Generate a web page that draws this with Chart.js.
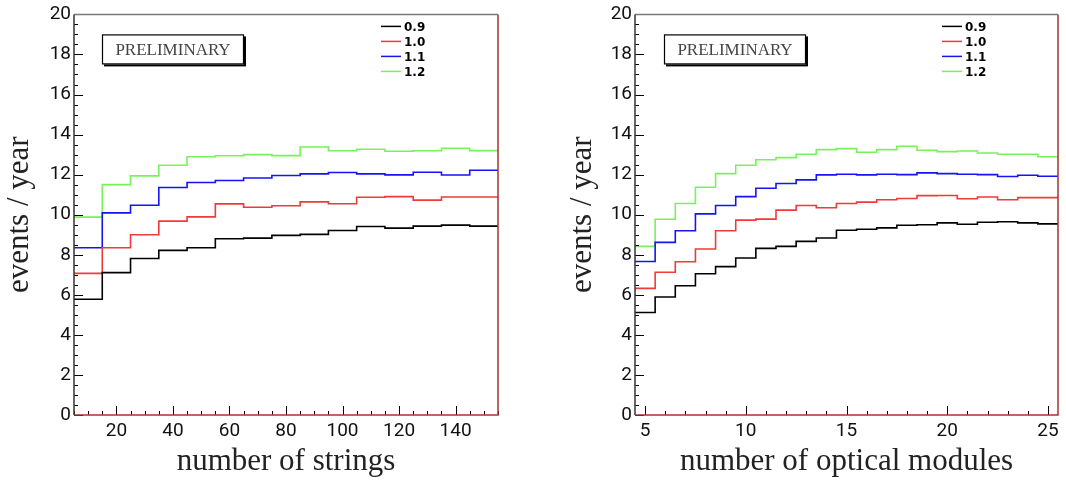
<!DOCTYPE html>
<html>
<head>
<meta charset="utf-8">
<script src="https://cdn.jsdelivr.net/npm/chart.js@4"></script>
<style>
  body { margin: 0; background: #fff; }
  .wrap { position: absolute; top: 0; width: 533px; height: 483px; }
</style>
</head>
<body>
<div class="wrap" style="left:0"><canvas id="stringsChart" width="533" height="483"></canvas></div>
<div class="wrap" style="left:533px"><canvas id="modulesChart" width="533" height="483"></canvas></div>
<script>
// series labels (legend)
const seriesLabels = ['0.9', '1.0', '1.1', '1.2'];
const seriesColors = ['#000000', '#f03a3a', '#1414f5', '#78f25a'];

// left: bin centres (number of strings, bin width 10)
const stringBins = [10, 20, 30, 40, 50, 60, 70, 80, 90, 100, 110, 120, 130, 140, 150];
const strings09 = [5.78, 7.11, 7.81, 8.22, 8.35, 8.80, 8.83, 8.97, 9.02, 9.21, 9.41, 9.33, 9.43, 9.48, 9.43];
const strings10 = [7.07, 8.35, 9.00, 9.68, 9.89, 10.54, 10.37, 10.45, 10.64, 10.55, 10.87, 10.90, 10.73, 10.88, 10.88];
const strings11 = [8.35, 10.09, 10.47, 11.36, 11.61, 11.71, 11.83, 11.96, 12.04, 12.11, 12.04, 11.99, 12.12, 11.98, 12.22];
const strings12 = [9.88, 11.50, 11.94, 12.47, 12.89, 12.94, 13.00, 12.95, 13.38, 13.19, 13.27, 13.17, 13.19, 13.32, 13.20];
const stringTicks = [20, 40, 60, 80, 100, 120, 140];

// right: bin centres (number of optical modules, bin width 1)
const moduleBins = [5, 6, 7, 8, 9, 10, 11, 12, 13, 14, 15, 16, 17, 18, 19, 20, 21, 22, 23, 24, 25];
const modules09 = [5.12, 5.89, 6.45, 7.05, 7.41, 7.84, 8.32, 8.42, 8.67, 8.84, 9.22, 9.27, 9.34, 9.47, 9.50, 9.59, 9.52, 9.62, 9.65, 9.59, 9.54];
const modules10 = [6.32, 7.13, 7.65, 8.29, 9.20, 9.73, 9.78, 10.23, 10.46, 10.35, 10.56, 10.63, 10.75, 10.81, 10.95, 10.96, 10.80, 10.88, 10.75, 10.85, 10.85];
const modules11 = [7.66, 8.62, 9.20, 10.04, 10.46, 10.90, 11.32, 11.56, 11.74, 11.99, 12.02, 11.99, 12.02, 12.00, 12.09, 12.05, 12.02, 12.00, 11.91, 11.97, 11.92];
const modules12 = [8.42, 9.77, 10.56, 11.37, 12.05, 12.47, 12.74, 12.85, 13.02, 13.25, 13.30, 13.12, 13.25, 13.42, 13.22, 13.15, 13.18, 13.08, 13.02, 13.02, 12.89];
const moduleTicks = [5, 10, 15, 20, 25];

const yTicks = [0, 2, 4, 6, 8, 10, 12, 14, 16, 18, 20];

// histogram outline: one point per left bin edge, plus the last right edge
function histPoints(centers, values) {
    const w = centers[1] - centers[0];
    const pts = centers.map((c, i) => ({x: c - w / 2, y: values[i]}));
    pts.push({x: centers[centers.length - 1] + w / 2, y: values[values.length - 1]});
    return pts;
}

// inner ticks, frame, PRELIMINARY box and legend, ROOT style
const rootStyle = {
    id: 'rootStyle',
    afterDatasetsDraw(chart, args, opts) {
        const {ctx, chartArea: a, scales: {x, y}} = chart;
        ctx.save();
        ctx.strokeStyle = '#000';
        ctx.lineWidth = 1;
        const n = Math.round((x.max - x.min) / opts.minorX);
        const x0 = Math.ceil(x.min / opts.minorX) * opts.minorX;
        for (let i = 0; i <= n; i++) {
            const v = x0 + i * opts.minorX;
            if (v > x.max + 1e-9) break;
            const major = Math.abs(v / opts.majorX - Math.round(v / opts.majorX)) < 1e-6;
            const px = Math.round(x.getPixelForValue(v)) + 0.5;
            ctx.beginPath();
            ctx.moveTo(px, a.bottom);
            ctx.lineTo(px, a.bottom - (major ? 9 : 4));
            ctx.stroke();
        }
        for (let i = 0; i <= 40; i++) {
            const v = i * 0.5;
            const major = i % 4 === 0;
            const py = Math.round(y.getPixelForValue(v)) + 0.5;
            ctx.beginPath();
            ctx.moveTo(a.left, py);
            ctx.lineTo(a.left + (major ? 9 : 4), py);
            ctx.stroke();
        }
        // frame
        ctx.lineWidth = 1.5;
        ctx.strokeStyle = '#7a7a7a';
        ctx.beginPath(); ctx.moveTo(a.left, a.top); ctx.lineTo(a.right, a.top); ctx.stroke();
        ctx.strokeStyle = '#333';
        ctx.beginPath(); ctx.moveTo(a.left, a.top); ctx.lineTo(a.left, a.bottom); ctx.stroke();
        ctx.strokeStyle = '#a83232';
        ctx.beginPath(); ctx.moveTo(a.left, a.bottom); ctx.lineTo(a.right, a.bottom); ctx.lineTo(a.right, a.top); ctx.stroke();

        // PRELIMINARY box
        const bx = a.left + opts.boxX, by = a.top + 20, bw = 142, bh = 30;
        ctx.fillStyle = '#000';
        ctx.fillRect(bx + 2, by + 2, bw, bh);
        ctx.fillStyle = '#fff';
        ctx.fillRect(bx, by, bw, bh);
        ctx.lineWidth = 1.2;
        ctx.strokeStyle = '#000';
        ctx.strokeRect(bx + 0.5, by + 0.5, bw - 1, bh - 1);
        ctx.fillStyle = '#444';
        ctx.font = '17px "Liberation Serif", serif';
        ctx.textAlign = 'center';
        ctx.textBaseline = 'middle';
        ctx.fillText('PRELIMINARY', bx + bw / 2, by + bh / 2 + 1);

        // legend
        ctx.font = 'bold 12px "DejaVu Sans", sans-serif';
        ctx.textAlign = 'left';
        chart.data.datasets.forEach((ds, i) => {
            const ly = a.top + 12 + i * 15;
            const lx = a.left + opts.legendX;
            ctx.strokeStyle = ds.borderColor;
            ctx.lineWidth = 1.5;
            ctx.beginPath(); ctx.moveTo(lx, ly); ctx.lineTo(lx + 20, ly); ctx.stroke();
            ctx.fillStyle = '#000';
            ctx.fillText(ds.label, lx + 23, ly + 1);
        });
        ctx.restore();
    }
};

function makeChart(id, centers, series, xTicks, xTitle, opt) {
    const w = centers[1] - centers[0];
    new Chart(document.getElementById(id), {
        type: 'line',
        data: {
            datasets: series.map((vals, i) => ({
                label: seriesLabels[i],
                data: histPoints(centers, vals),
                borderColor: seriesColors[i],
                borderWidth: 1.6,
                stepped: true,
                pointRadius: 0,
                fill: false
            }))
        },
        options: {
            responsive: false,
            animation: false,
            layout: {padding: {left: opt.padLeft, right: opt.padRight, top: 12, bottom: 0}},
            plugins: {
                legend: {display: false},
                tooltip: {enabled: false},
                rootStyle: opt.style
            },
            scales: {
                x: {
                    type: 'linear',
                    min: centers[0] - w / 2,
                    max: centers[centers.length - 1] + w / 2,
                    afterBuildTicks: s => { s.ticks = xTicks.map(v => ({value: v})); },
                    afterFit: s => { s.height = 68; },
                    grid: {display: false, drawTicks: false},
                    border: {display: false},
                    ticks: {
                        color: '#111', padding: 5, maxRotation: 0, autoSkip: false,
                        font: {family: 'Roboto, sans-serif', size: 19}
                    },
                    title: {
                        display: true, text: xTitle, color: '#222',
                        padding: {top: 0, bottom: 6},
                        font: {family: '"Liberation Serif", serif', size: 31, lineHeight: 1}
                    }
                },
                y: {
                    min: 0,
                    max: 20,
                    afterBuildTicks: s => { s.ticks = yTicks.map(v => ({value: v})); },
                    afterFit: s => { s.width = opt.yWidth; },
                    grid: {display: false, drawTicks: false},
                    border: {display: false},
                    ticks: {
                        color: '#111', padding: 3,
                        font: {family: 'Roboto, sans-serif', size: 19}
                    },
                    title: {
                        display: true, text: 'events / year', color: '#222',
                        padding: {top: 4, bottom: 0},
                        font: {family: '"Liberation Serif", serif', size: 31, lineHeight: 1}
                    }
                }
            }
        },
        plugins: [rootStyle]
    });
}

makeChart('stringsChart', stringBins, [strings09, strings10, strings11, strings12], stringTicks,
    'number of strings',
    {padLeft: 0, padRight: 35, yWidth: 74, style: {minorX: 5, majorX: 20, boxX: 28, legendX: 307}});

makeChart('modulesChart', moduleBins, [modules09, modules10, modules11, modules12], moduleTicks,
    'number of optical modules',
    {padLeft: 30, padRight: 8, yWidth: 72, style: {minorX: 1, majorX: 5, boxX: 29, legendX: 307}});
</script>
</body>
</html>
